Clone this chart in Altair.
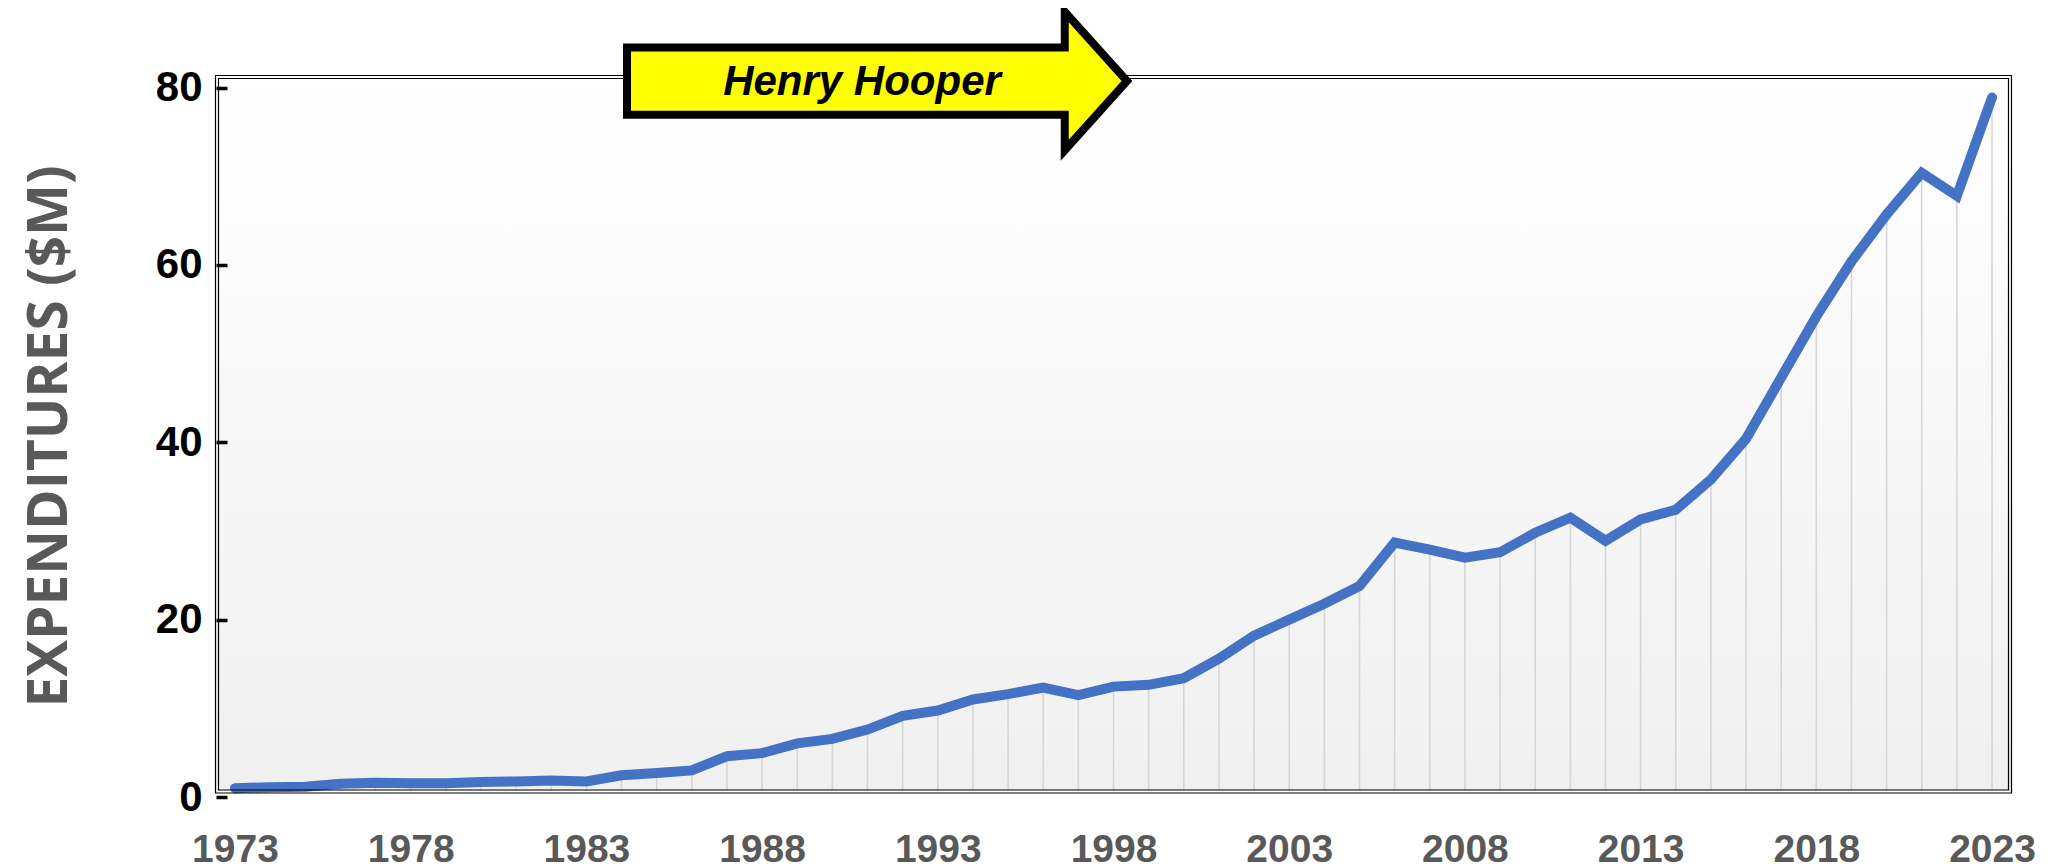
import altair as alt
import pandas as pd

# ---- data ----
years = list(range(1973, 2024))
expenditures = [1.0, 1.1, 1.15, 1.5, 1.6, 1.55, 1.55, 1.7, 1.75, 1.85,
                1.75, 2.45, 2.7, 3.0, 4.6, 4.95, 6.05, 6.55, 7.6, 9.15,
                9.75, 11.0, 11.6, 12.35, 11.5, 12.45, 12.65, 13.4, 15.6, 18.2,
                20.0, 21.8, 23.8, 28.7, 27.9, 27.0, 27.6, 29.8, 31.5, 28.9,
                31.3, 32.4, 35.8, 40.4, 47.3, 54.2, 60.4, 65.7, 70.4, 67.8,
                78.9]
y_ticks = [0, 20, 40, 60, 80]
x_ticks = list(range(1973, 2024, 5))
y_title = "EXPENDITURES ($M)"
arrow_label = "Henry Hooper"

df = pd.DataFrame({"year": years, "value": expenditures})
one = pd.DataFrame({"k": [0]})

W, H = 1795, 720
FRAME_B = 714

x_scale = alt.Scale(domain=[1972.46, 2023.54], nice=False, zero=False)
y_scale = alt.Scale(domain=[0, 81.2], nice=False, zero=True)

x_axis = alt.Axis(values=x_ticks, format="d", title=None, grid=False, domain=False,
                  ticks=False, labelFont="Liberation Sans", labelFontSize=39,
                  labelFontWeight="bold", labelColor="#595959", labelPadding=33,
                  labelFlush=False, labelOverlap=False, zindex=1)
y_axis = alt.Axis(values=y_ticks, title=None, grid=False, domain=False,
                  ticks=True, tickSize=11, tickWidth=3.5, tickColor="#000000",
                  offset=-11, labelFont="Liberation Sans", labelFontSize=42,
                  labelFontWeight="bold", labelColor="#000000", labelPadding=14,
                  labelOverlap=False, zindex=1)

bg = alt.Chart(one).mark_rect(
    fill=alt.LinearGradient(
        gradient="linear",
        stops=[alt.GradientStop(color="#ffffff", offset=0),
               alt.GradientStop(color="#f0f0f0", offset=1)],
        x1=0, x2=0, y1=0, y2=1),
).encode(x=alt.value(0), x2=alt.value(W), y=alt.value(0), y2=alt.value(FRAME_B))

rules = alt.Chart(df).mark_rule(color="#D6D6D6", strokeWidth=1.6).encode(
    x=alt.X("year:Q", scale=x_scale, axis=x_axis),
    y=alt.Y("value:Q", scale=y_scale, axis=y_axis),
    y2=alt.value(FRAME_B),
)

line = alt.Chart(df).mark_line(color="#4472C4", strokeWidth=10,
                               strokeCap="round", strokeJoin="miter").encode(
    x=alt.X("year:Q", scale=x_scale, axis=x_axis),
    y=alt.Y("value:Q", scale=y_scale, axis=y_axis),
)

frame_outer = alt.Chart(one).mark_rect(fillOpacity=0, stroke="#000000", strokeWidth=1.2).encode(
    x=alt.value(-0.5), x2=alt.value(W + 0.5), y=alt.value(-1.5), y2=alt.value(FRAME_B + 2))
frame_inner = alt.Chart(one).mark_rect(fillOpacity=0, stroke="#000000", strokeWidth=1.2).encode(
    x=alt.value(2.5), x2=alt.value(W - 2.5), y=alt.value(1.5), y2=alt.value(FRAME_B - 1))

arrow_path = ("M -1 -0.1345 L 0.751 -0.1345 L 0.751 -0.277 L 1 0 "
              "L 0.751 0.277 L 0.751 0.1345 L -1 0.1345 Z")
arrow = alt.Chart(one).mark_point(
    shape=arrow_path, filled=True, fill="#FFFF00", stroke="#000000",
    strokeWidth=8, strokeJoin="miter", opacity=1, fillOpacity=1, strokeOpacity=1,
).encode(x=alt.value(661), y=alt.value(4), size=alt.value(500 * 500))

arrow_text = alt.Chart(one).mark_text(
    text=arrow_label, font="Liberation Sans", fontSize=42, fontWeight="bold",
    fontStyle="italic", color="#000000", align="center", baseline="middle",
).encode(x=alt.value(646), y=alt.value(5))

title = alt.Chart(one).mark_text(
    text=y_title, angle=270, font="Open Sans", fontSize=55, fontWeight="bold",
    color="#595959", align="center", baseline="middle",
).encode(x=alt.value(-166), y=alt.value(359.5))

chart = alt.layer(bg, rules, line, frame_outer, frame_inner, arrow, arrow_text, title).properties(
    width=W, height=H,
    autosize=alt.AutoSizeParams(type="none"),
    padding={"left": 208, "top": 69, "right": 30, "bottom": 90},
    background="#ffffff",
).configure_view(strokeWidth=0)

chart.save("out.html", embed_options={"renderer": "svg", "actions": False})
